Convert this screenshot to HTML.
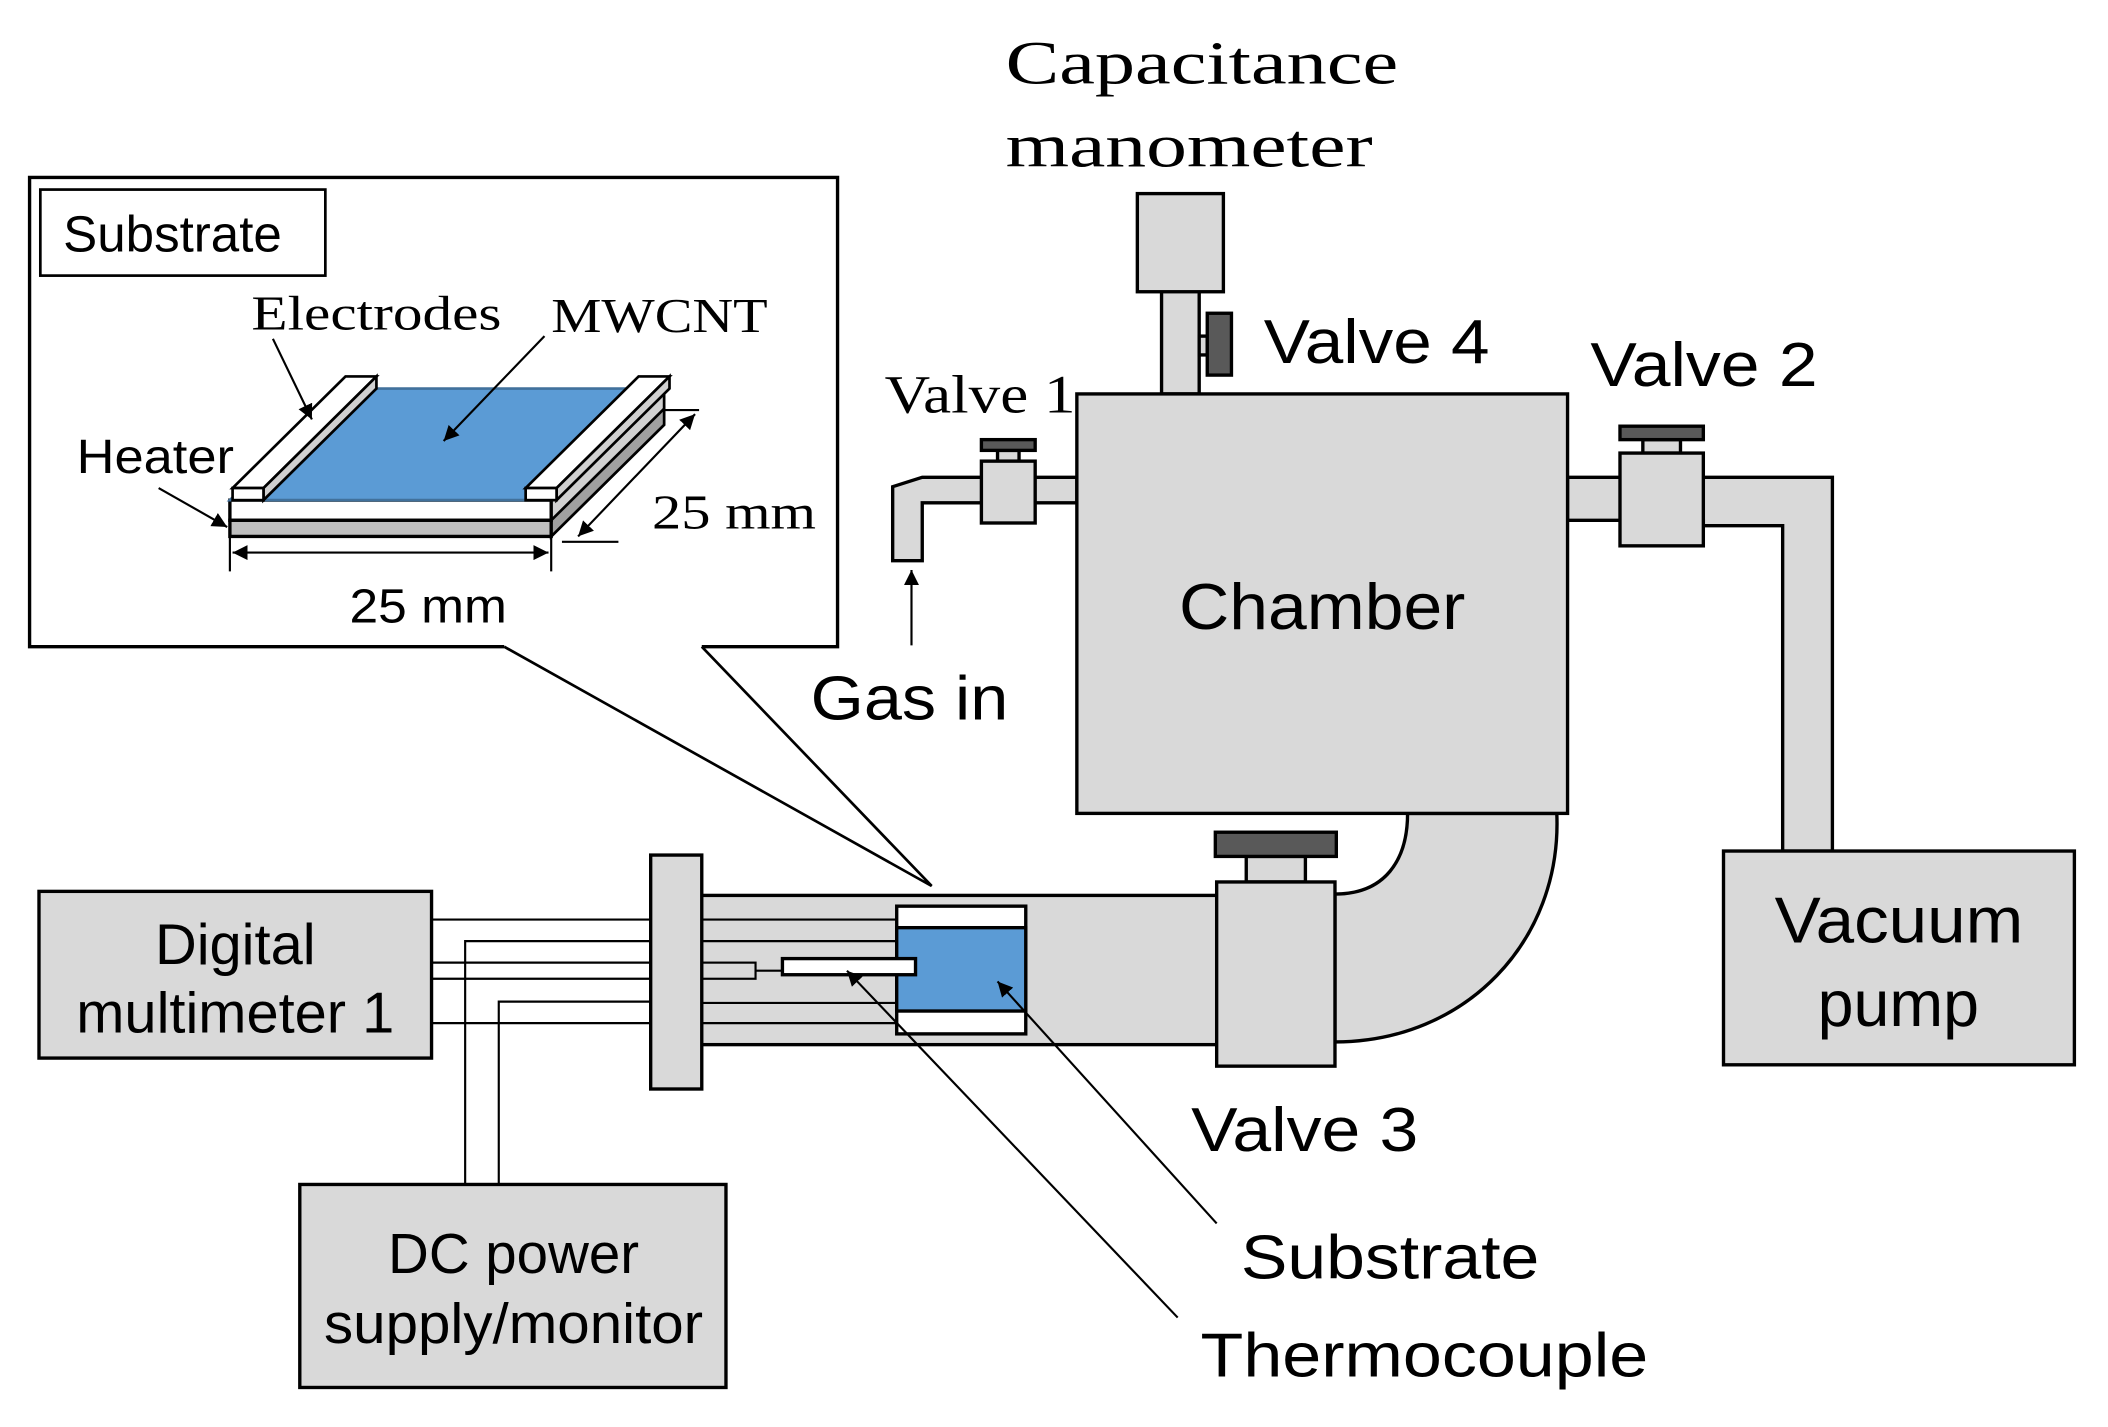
<!DOCTYPE html>
<html><head><style>
html,body{margin:0;padding:0;background:#fff;}
svg{display:block;}
.s{font-family:"Liberation Sans",sans-serif;}
.r{font-family:"Liberation Serif",serif;}
</style></head><body>
<svg width="2108" height="1427" viewBox="0 0 1568 1061.4" preserveAspectRatio="none" xmlns="http://www.w3.org/2000/svg">
<defs>
<marker id="a" viewBox="0 0 10 10" refX="10" refY="5" markerWidth="7" markerHeight="7" orient="auto-start-reverse"><path d="M0,0 L10,5 L0,10 z" fill="#000"/></marker>
</defs>
<g stroke="#000" stroke-width="2.5" fill="#d9d9d9">
<path d="M375,481 L22,481 L22,132 L623,132 L623,481 L522,481" fill="#fff"/>
<path d="M375,481 L693,659 L522,481" fill="none" stroke-width="2"/>
<rect x="30" y="141" width="212" height="64" fill="#fff" stroke-width="2"/>
<path d="M410,372 L494,289 L494,316 L410,399 z" fill="#d0d0d0" stroke-width="2"/>
<path d="M410,387 L494,304 L494,316 L410,399 z" fill="#a0a0a0" stroke-width="2"/>
<rect x="171" y="372" width="239" height="15" fill="#fff" stroke-width="2.5"/>
<rect x="171" y="387" width="239" height="12" fill="#bfbfbf" stroke-width="2.5"/>
<path d="M171,372 L255,289 L494,289 L410,372 z" fill="#5b9bd5" stroke="#41719c" stroke-width="2"/>
<path d="M173,363 L257,280 L280,280 L196,363 z" fill="#fff" stroke-width="2"/>
<path d="M196,363 L280,280 L280,289 L196,372 z" fill="#d0d0d0" stroke-width="2"/>
<rect x="173" y="363" width="23" height="9" fill="#fff" stroke-width="2"/>
<path d="M391,363 L475,280 L498,280 L414,363 z" fill="#fff" stroke-width="2"/>
<path d="M414,363 L498,280 L498,289 L414,372 z" fill="#d0d0d0" stroke-width="2"/>
<rect x="391" y="363" width="23" height="9" fill="#fff" stroke-width="2"/>
</g>
<g stroke="#000" stroke-width="1.6" fill="none">
<line x1="171" y1="399" x2="171" y2="425"/><line x1="410" y1="399" x2="410" y2="425"/>
<line x1="173" y1="411" x2="408" y2="411" marker-start="url(#a)" marker-end="url(#a)"/>
<line x1="418" y1="403" x2="460" y2="403"/><line x1="494" y1="305" x2="520" y2="305"/>
<line x1="430" y1="399" x2="517" y2="308" marker-start="url(#a)" marker-end="url(#a)"/>
<line x1="118" y1="363" x2="169" y2="392" marker-end="url(#a)"/>
<line x1="203" y1="252" x2="232" y2="312" marker-end="url(#a)"/>
<line x1="405" y1="250" x2="330" y2="328" marker-end="url(#a)"/>
</g>
<text x="47" y="187" class="s" font-size="38">Substrate</text>
<text x="187" y="245" class="r" font-size="36" textLength="186" lengthAdjust="spacingAndGlyphs">Electrodes</text>
<text x="410" y="247" class="r" font-size="36" textLength="161" lengthAdjust="spacingAndGlyphs">MWCNT</text>
<text x="57" y="352" class="s" font-size="36" textLength="117" lengthAdjust="spacingAndGlyphs">Heater</text>
<text x="260" y="463" class="s" font-size="36" textLength="117" lengthAdjust="spacingAndGlyphs">25 mm</text>
<text x="485" y="393" class="r" font-size="36" textLength="122" lengthAdjust="spacingAndGlyphs">25 mm</text>

<g stroke="#000" stroke-width="2.5" fill="#d9d9d9">
<rect x="864" y="210" width="28" height="83"/>
<rect x="846" y="144" width="64" height="73"/>
<rect x="892" y="250" width="6" height="14"/>
<rect x="898" y="233" width="18" height="46" fill="#595959"/>
<path d="M801,355 L700,355 L686,355 L664,362 L664,417 L686,417 L686,374 L801,374 z"/>
<rect x="742" y="335" width="16" height="8"/>
<rect x="730" y="327" width="40" height="8" fill="#595959"/>
<rect x="730" y="343" width="40" height="46"/>
<path d="M1166,355 L1363,355 L1363,633 L1326,633 L1326,391 L1267,391 L1267,387 L1166,387 z"/>
<rect x="1222" y="327" width="28" height="10"/>
<rect x="1205" y="317" width="62" height="10" fill="#595959"/>
<rect x="1205" y="337" width="62" height="69"/>
<rect x="1282" y="633" width="261" height="159"/>
<path d="M1047,605 L1158,605 C1162,700 1090,775 993,775 L993,665 C1030,665 1047,640 1047,605 z"/>
<rect x="801" y="293" width="365" height="312"/>
<rect x="520" y="666" width="387" height="111"/>
<rect x="927" y="637" width="44" height="19"/>
<rect x="904" y="619" width="90" height="18" fill="#595959"/>
<rect x="905" y="656" width="88" height="137"/>
<rect x="484" y="636" width="38" height="174"/>
<rect x="29" y="663" width="292" height="124"/>
<rect x="223" y="881" width="317" height="151"/>
</g>
<g stroke="#000" stroke-width="1.6" fill="none">
<line x1="321" y1="684" x2="484" y2="684"/>
<path d="M346,881 L346,700 L484,700"/>
<line x1="321" y1="716" x2="484" y2="716"/>
<line x1="321" y1="728" x2="484" y2="728"/>
<path d="M371,881 L371,745 L484,745"/>
<line x1="321" y1="761" x2="484" y2="761"/>
<line x1="522" y1="684" x2="667" y2="684"/>
<line x1="522" y1="700" x2="667" y2="700"/>
<line x1="522" y1="746" x2="667" y2="746"/>
<line x1="522" y1="761" x2="667" y2="761"/>
<rect x="522" y="716" width="40" height="12"/>
<line x1="562" y1="722" x2="582" y2="722"/>
</g>
<g stroke="#000" stroke-width="2.5">
<rect x="667" y="674" width="96" height="95" fill="#fff"/>
<rect x="667" y="690" width="96" height="62" fill="#5b9bd5"/>
<rect x="582" y="713" width="99" height="12" fill="#fff"/>
</g>
<g stroke="#000" stroke-width="1.6" fill="none">
<line x1="678" y1="480" x2="678" y2="424" marker-end="url(#a)"/>
<line x1="905" y1="910" x2="742" y2="730" marker-end="url(#a)"/>
<line x1="876" y1="980" x2="630" y2="722" marker-end="url(#a)"/>
</g>
<text x="748" y="62" class="r" font-size="46" textLength="292" lengthAdjust="spacingAndGlyphs">Capacitance</text>
<text x="748" y="124" class="r" font-size="46" textLength="273" lengthAdjust="spacingAndGlyphs">manometer</text>
<text x="940" y="270" class="s" font-size="46" textLength="168" lengthAdjust="spacingAndGlyphs">Valve 4</text>
<text x="658" y="307" class="r" font-size="40" textLength="142" lengthAdjust="spacingAndGlyphs">Valve 1</text>
<text x="1183" y="287" class="s" font-size="46" textLength="169" lengthAdjust="spacingAndGlyphs">Valve 2</text>
<text x="877" y="468" class="s" font-size="48" textLength="213" lengthAdjust="spacingAndGlyphs">Chamber</text>
<text x="603" y="535" class="s" font-size="46" textLength="147" lengthAdjust="spacingAndGlyphs">Gas in</text>
<text x="1320" y="701" class="s" font-size="48" textLength="185" lengthAdjust="spacingAndGlyphs">Vacuum</text>
<text x="1412" y="763" class="s" font-size="48" text-anchor="middle">pump</text>
<text x="175" y="717" class="s" font-size="43" text-anchor="middle">Digital</text>
<text x="175" y="768" class="s" font-size="43" text-anchor="middle">multimeter 1</text>
<text x="382" y="947" class="s" font-size="42" text-anchor="middle">DC power</text>
<text x="241" y="999" class="s" font-size="42" textLength="282" lengthAdjust="spacingAndGlyphs">supply/monitor</text>
<text x="886" y="856" class="s" font-size="46" textLength="169" lengthAdjust="spacingAndGlyphs">Valve 3</text>
<text x="923" y="951" class="s" font-size="46" textLength="222" lengthAdjust="spacingAndGlyphs">Substrate</text>
<text x="893" y="1024" class="s" font-size="46" textLength="333" lengthAdjust="spacingAndGlyphs">Thermocouple</text>
</svg>
</body></html>
